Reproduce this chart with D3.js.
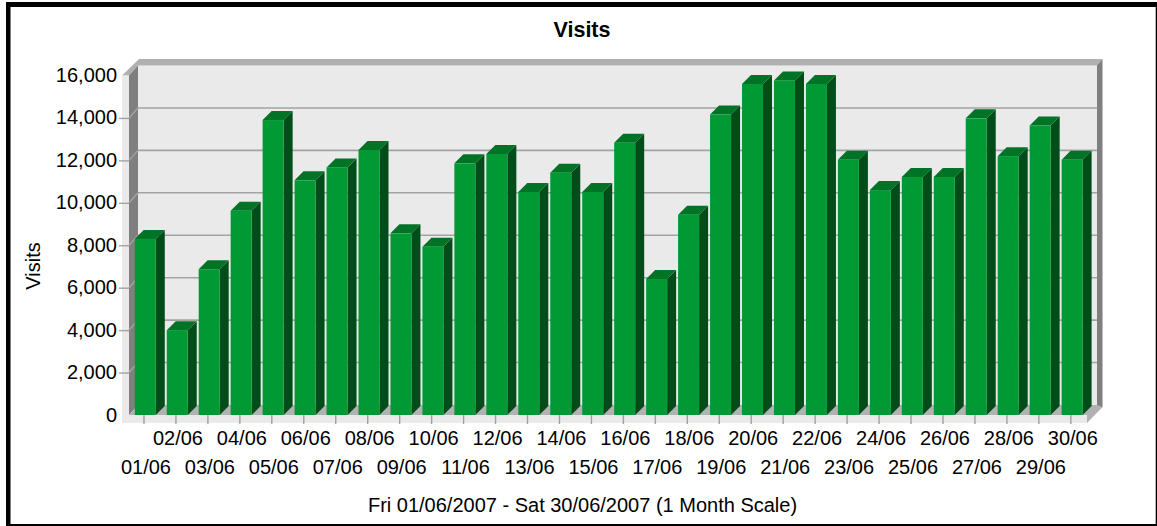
<!DOCTYPE html>
<html><head><meta charset="utf-8">
<script src="https://cdn.jsdelivr.net/npm/d3@7/dist/d3.min.js"></script>
<style>html,body{margin:0;padding:0;background:#fff}svg{display:block}text{font-family:"Liberation Sans",Arial,sans-serif;fill:#000}</style>
</head><body><svg id="c" width="1157" height="526"></svg>
<script>
const days = ["01/06","02/06","03/06","04/06","05/06","06/06","07/06","08/06","09/06","10/06","11/06","12/06","13/06","14/06","15/06","16/06","17/06","18/06","19/06","20/06","21/06","22/06","23/06","24/06","25/06","26/06","27/06","28/06","29/06","30/06"];
const visits = [8300,4000,6870,9630,13900,11060,11670,12490,8560,7930,11860,12300,10510,11420,10510,12830,6410,9440,14160,15600,15770,15600,12030,10600,11220,11220,13980,12200,13640,12030];
const yTicks = [0,2000,4000,6000,8000,10000,12000,14000,16000];
const chartTitle = "Visits";
const yTitle = "Visits";
const caption = "Fri 01/06/2007 - Sat 30/06/2007 (1 Month Scale)";

const svg = d3.select("#c");
const y = d3.scaleLinear().domain([0,16000]).range([415,75.5]);
const x = d3.scaleBand().domain(days).range([128,128+30*31.96]).paddingInner(0).paddingOuter(0);
const dx = 9, dy = 10, capDy = 9, wallL = 129, wallR = 1088, base = y(0), ceil = y(16000);
const poly = (pts,fill) => svg.append("polygon").attr("points",pts.map(p=>p.join(",")).join(" ")).attr("fill",fill);

// frame
[[6,2,1151,5],[6,2,4.5,524],[1155.7,2,1.3,524],[6,524,1151,2]].forEach(r=>
  svg.append("rect").attr("x",r[0]).attr("y",r[1]).attr("width",r[2]).attr("height",r[3]).attr("fill","#000"));

// walls and floor
const wall = "#eaeaea";
poly([[wallL+dx,ceil-dy],[wallR+dx,ceil-dy],[wallR+dx,base-dy],[wallL+dx,base-dy]],wall);
poly([[122,ceil],[wallL,ceil],[wallL+dx,ceil-dy],[wallR+dx,ceil-dy],[1102.5,59],[139,59]],"#b0b0b0");
poly([[wallR+dx,ceil-dy],[1102.5,59],[1102.5,407],[wallR+dx,base-dy+7]],"#7f7f7f");
poly([[wallL,ceil],[wallL+dx,ceil-dy],[wallL+dx,base-dy],[wallL,base]],"#7f7f7f");
poly([[122,ceil],[wallL,ceil],[wallL,base],[122,base]],wall);
poly([[wallL,base],[wallL+dx,base-dy],[wallR+dx,base-dy],[1102.5,407],[1087,423],[1087,base]],"#b2b2b2");
poly([[122,base],[1087,base],[1087,423],[122,423]],wall);

// gridlines on the back wall and left wall
const grid = svg.append("g");
yTicks.filter(t=>t>0&&t<16000).forEach(t=>{
  grid.append("line").attr("x1",wallL+dx).attr("x2",wallR+dx).attr("y1",y(t)-dy).attr("y2",y(t)-dy).attr("stroke","#a3a3a3").attr("stroke-width",1.6);
  grid.append("line").attr("x1",wallL).attr("x2",wallL+dx).attr("y1",y(t)).attr("y2",y(t)-dy).attr("stroke","#a3a3a3").attr("stroke-width",1.4);
});

// y axis
const yAxis = svg.append("g").attr("transform",`translate(${wallL},0)`)
  .call(d3.axisLeft(y).tickValues(yTicks).tickSize(10).tickPadding(3).tickFormat(d3.format(",")));
yAxis.select(".domain").remove();
yAxis.selectAll("line").attr("stroke","#a3a3a3").attr("stroke-width",1.4);
yAxis.selectAll("text").style("font-size","20px").attr("dy","0.3em").attr("dx","1");
yAxis.selectAll(".tick").filter(d=>d===0||d===16000).select("line").remove();

// x axis
const xAxis = svg.append("g").attr("transform",`translate(0,${base})`)
  .call(d3.axisBottom(x).tickSize(9));
xAxis.select(".domain").remove();
xAxis.selectAll("line").attr("stroke","#a0a0a0").attr("stroke-width",1.4);
xAxis.selectAll("text").style("font-size","20px").attr("text-anchor","middle").attr("dx","2")
  .attr("dy",0).attr("y",(d,i)=> i%2===1 ? 29.5 : 59);

// bars
const barW = 21, bx = d => x(d)+x.bandwidth()/2-9.2;
const bars = svg.append("g").selectAll("g").data(days.map((d,i)=>({d,v:visits[i]}))).join("g");
const sideD = b => `M${bx(b.d)+barW},${y(b.v)}l${dx},${-capDy}V${base-capDy}l${-dx},${capDy}Z`;
const topD = b => `M${bx(b.d)},${y(b.v)}l${dx},${-capDy}h${barW}l${-dx},${capDy}Z`;
bars.append("path").attr("d",sideD).attr("fill","#004d19");
bars.append("path").attr("d",topD).attr("fill","#007326");
bars.append("rect").attr("x",b=>bx(b.d)).attr("y",b=>y(b.v)).attr("width",barW).attr("height",b=>base-y(b.v)).attr("fill","#009933");

// titles
svg.append("text").attr("x",582).attr("y",37).attr("text-anchor","middle").style("font-size","21.5px").style("font-weight","bold").text(chartTitle);
svg.append("text").attr("transform","translate(40,266) rotate(-90)").attr("text-anchor","middle").style("font-size","20px").text(yTitle);
svg.append("text").attr("x",582.5).attr("y",512).attr("text-anchor","middle").style("font-size","20px").text(caption);
</script></body></html>
